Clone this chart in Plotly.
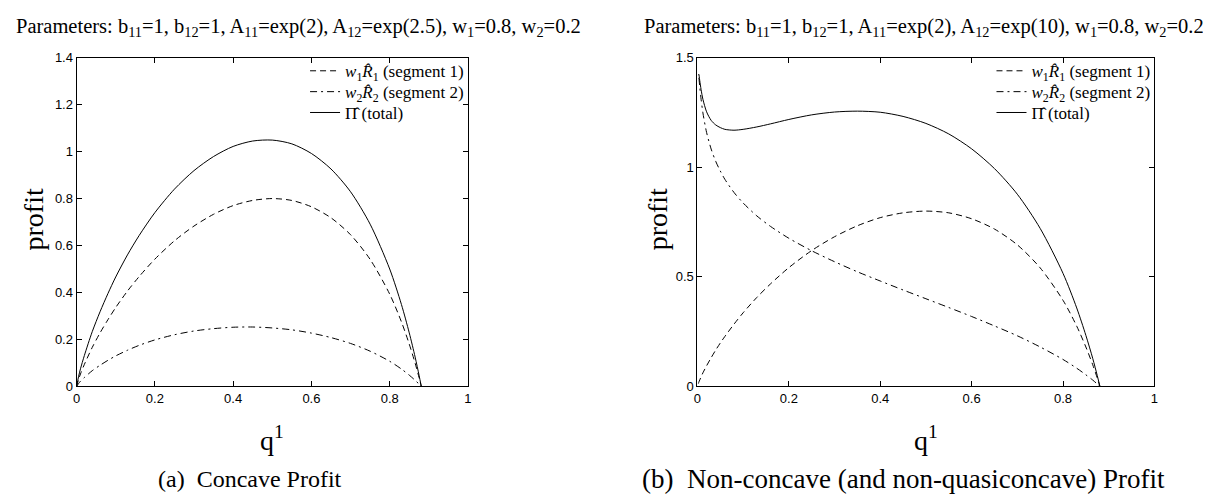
import plotly.graph_objects as go

# ---- data ----
q_a = [0, 0.005, 0.01, 0.02, 0.04, 0.06, 0.08, 0.1, 0.13, 0.16, 0.2, 0.25, 0.3, 0.35, 0.4, 0.45,
       0.5, 0.55, 0.6, 0.65, 0.7, 0.75, 0.8, 0.83, 0.85, 0.865, 0.875, 0.8808]
seg1_a = [0.0, 0.029, 0.053, 0.094, 0.166, 0.228, 0.284, 0.336, 0.406, 0.468, 0.542, 0.62, 0.683,
          0.733, 0.77, 0.792, 0.8, 0.792, 0.765, 0.718, 0.646, 0.541, 0.393, 0.275, 0.18, 0.099, 0.038, 0.0]
seg2_a = [0.0, 0.012, 0.022, 0.038, 0.067, 0.09, 0.111, 0.13, 0.154, 0.175, 0.198, 0.22, 0.236,
          0.246, 0.252, 0.253, 0.249, 0.241, 0.227, 0.208, 0.183, 0.15, 0.107, 0.074, 0.048, 0.026, 0.01, 0.0]
total_a = [0.0, 0.041, 0.075, 0.132, 0.233, 0.318, 0.395, 0.466, 0.560, 0.643, 0.740, 0.840, 0.919,
           0.979, 1.022, 1.045, 1.049, 1.033, 0.992, 0.926, 0.829, 0.691, 0.500, 0.349, 0.228, 0.125, 0.048, 0.0]

q_b = [0.002, 0.003, 0.005, 0.008, 0.012, 0.02, 0.03, 0.04, 0.05, 0.06, 0.08, 0.1, 0.13, 0.16, 0.2,
       0.25, 0.3, 0.35, 0.4, 0.45, 0.5, 0.55, 0.6, 0.65, 0.7, 0.75, 0.8, 0.83, 0.85, 0.865, 0.875, 0.8808]
seg1_b = [0.013, 0.019, 0.029, 0.044, 0.062, 0.094, 0.131, 0.166, 0.198, 0.228, 0.284, 0.336, 0.406,
          0.468, 0.542, 0.62, 0.683, 0.733, 0.77, 0.792, 0.8, 0.792, 0.765, 0.718, 0.646, 0.541, 0.393,
          0.275, 0.18, 0.099, 0.038, 0.0]
seg2_b = [1.407, 1.405, 1.367, 1.31, 1.248, 1.159, 1.083, 1.027, 0.983, 0.945, 0.885, 0.837, 0.778,
          0.73, 0.676, 0.619, 0.569, 0.523, 0.481, 0.44, 0.4, 0.36, 0.319, 0.276, 0.231, 0.18, 0.123,
          0.083, 0.053, 0.029, 0.011, 0.0]
total_b = [1.420, 1.424, 1.396, 1.354, 1.310, 1.253, 1.214, 1.193, 1.181, 1.173, 1.169, 1.173, 1.184,
           1.198, 1.218, 1.239, 1.252, 1.256, 1.251, 1.232, 1.200, 1.152, 1.084, 0.994, 0.877, 0.721,
           0.516, 0.358, 0.233, 0.128, 0.049, 0.0]

x_ticks = [0, 0.2, 0.4, 0.6, 0.8, 1]
y_ticks_a = [0, 0.2, 0.4, 0.6, 0.8, 1, 1.2, 1.4]
y_ticks_b = [0, 0.5, 1, 1.5]

names = ["<i>w</i><sub>1</sub><i>R\u0302</i><sub>1</sub> (segment 1)",
         "<i>w</i><sub>2</sub><i>R\u0302</i><sub>2</sub> (segment 2)",
         "\u03a0\u0302 (total)"]
title_a = ("Parameters: b<sub>11</sub>=1, b<sub>12</sub>=1, A<sub>11</sub>=exp(2), "
           "A<sub>12</sub>=exp(2.5), w<sub>1</sub>=0.8, w<sub>2</sub>=0.2")
title_b = ("Parameters: b<sub>11</sub>=1, b<sub>12</sub>=1, A<sub>11</sub>=exp(2), "
           "A<sub>12</sub>=exp(10), w<sub>1</sub>=0.8, w<sub>2</sub>=0.2")
caption_a = "(a)  Concave Profit"
caption_b = "(b)  Non-concave (and non-quasiconcave) Profit"

# ---- figure ----
W, H = 1211, 496
def px(x): return x / W
def py(y): return (H - y) / H

dash1 = "6px,4px"
dash2 = "7px,4px,2px,4px"
styles = [dict(color="black", width=1, dash=dash1),
          dict(color="black", width=1, dash=dash2),
          dict(color="black", width=1, dash="solid")]

serif = "Liberation Serif, Times New Roman, serif"
leg_font = dict(family=serif, size=17, color="black")
leg_rows = [58, 79.5, 101]          # pixel rows of the legend entries
leg_left = [295, 986]               # pixel x where legend samples start

fig = go.Figure()
legend_layout = {}
k = 0
for p, (qq, series) in enumerate([(q_a, [seg1_a, seg2_a, total_a]), (q_b, [seg1_b, seg2_b, total_b])]):
    for i, (ys, nm, st) in enumerate(zip(series, names, styles)):
        k += 1
        lname = "legend" if k == 1 else f"legend{k}"
        fig.add_trace(go.Scatter(x=qq, y=ys, mode="lines", name=nm,
                                 line=dict(st, shape="spline", smoothing=0.8),
                                 xaxis="x" if p == 0 else "x2", yaxis="y" if p == 0 else "y2",
                                 legend=lname))
        legend_layout[lname] = dict(x=px(leg_left[p]), xanchor="left", y=py(leg_rows[i]),
                                    yanchor="middle", bgcolor="rgba(0,0,0,0)", font=leg_font,
                                    borderwidth=0)

axis_common = dict(showline=True, linecolor="black", linewidth=1, mirror="ticks", ticks="inside",
                   ticklen=5, tickcolor="black", showgrid=False, zeroline=False,
                   tickfont=dict(family="Liberation Sans, Arial", size=13, color="black"))

dom_ya = [py(383), py(44)]
fig.update_layout(
    width=W, height=H, margin=dict(l=0, r=0, t=0, b=0),
    paper_bgcolor="white", plot_bgcolor="white",
    xaxis=dict(axis_common, domain=[px(65), px(459)], range=[0, 1], tickvals=x_ticks, anchor="y"),
    yaxis=dict(axis_common, domain=dom_ya, range=[0, 1.4], tickvals=y_ticks_a, anchor="x"),
    xaxis2=dict(axis_common, domain=[px(690), px(1150)], range=[0, 1], tickvals=x_ticks, anchor="y2"),
    yaxis2=dict(axis_common, domain=dom_ya, range=[0, 1.5], tickvals=y_ticks_b, anchor="x2"),
    showlegend=True,
    **legend_layout,
)

ann = []
ann.append(dict(text=title_a, x=px(288), y=py(13), font=dict(family=serif, size=20.5, color="black")))
ann.append(dict(text=title_b, x=px(918), y=py(13), font=dict(family=serif, size=20.5, color="black")))
ann.append(dict(text="profit", x=px(22), y=py(211), textangle=-90, font=dict(family=serif, size=28, color="black")))
ann.append(dict(text="profit", x=px(650), y=py(211), textangle=-90, font=dict(family=serif, size=28, color="black")))
ann.append(dict(text="q<sup>1</sup>", x=px(262), y=py(437), font=dict(family=serif, size=28, color="black")))
ann.append(dict(text="q<sup>1</sup>", x=px(920), y=py(437), font=dict(family=serif, size=28, color="black")))
ann.append(dict(text=caption_a, x=px(240), y=py(478), font=dict(family=serif, size=24, color="black")))
ann.append(dict(text=caption_b, x=px(897), y=py(478), font=dict(family=serif, size=27, color="black")))
for a in ann:
    a.update(xref="paper", yref="paper", showarrow=False, xanchor="center", yanchor="middle")
fig.update_layout(annotations=ann)

fig.write_html("out.html")
